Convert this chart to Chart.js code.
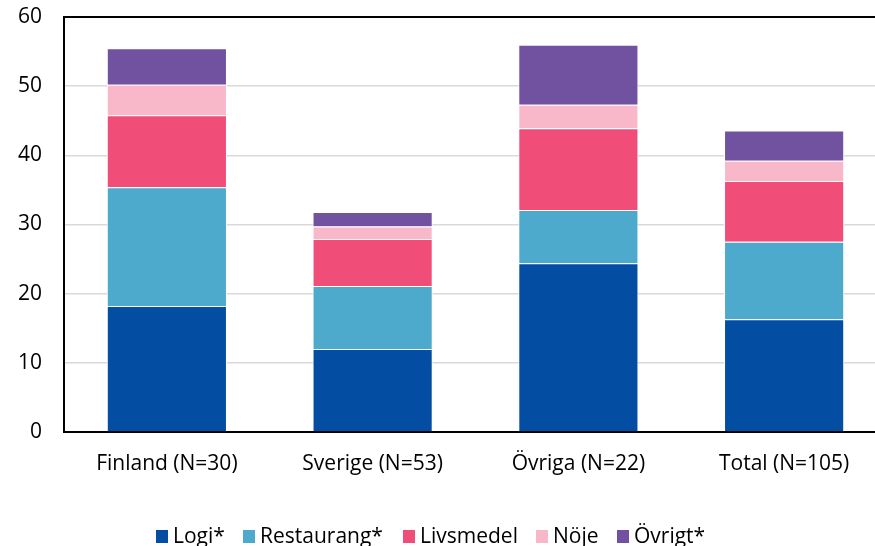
<!DOCTYPE html>
<html>
<head>
<meta charset="utf-8">
<script src="https://cdn.jsdelivr.net/npm/chart.js@4.4.1/dist/chart.umd.min.js"></script>
<style>
  html, body { margin: 0; padding: 0; background: #fff; overflow: hidden; }
  #wrap { position: relative; width: 875px; height: 546px; overflow: hidden; }
  #c { position: absolute; left: 0; top: 0; }
  #legend { position: absolute; left: 0; top: 521px; width: 875px; height: 28px;
            font-family: "Open Sans", sans-serif; font-size: 21px; line-height: 28px; color: #000; }
  #legend .item { position: absolute; top: 0; white-space: nowrap; }
  #legend .box { position: absolute; left: 0; top: 9px; width: 12px; height: 13px; }
  #legend .txt { position: absolute; left: 17px; top: 0; }
</style>
</head>
<body>
<div id="wrap">
  <canvas id="c" width="887" height="546"></canvas>
  <div id="legend"></div>
</div>
<script>
const categories = ["Finland (N=30)", "Sverige (N=53)", "Övriga (N=22)", "Total (N=105)"];
const seriesNames = ["Logi*", "Restaurang*", "Livsmedel", "Nöje", "Övrigt*"];
const logi       = [18.2, 12.0, 24.4, 16.3];
const restaurang = [17.2,  9.1,  7.7, 11.2];
const livsmedel  = [10.4,  6.8, 11.8,  8.8];
const noje       = [ 4.4,  1.8,  3.4,  2.9];
const ovrigt     = [ 5.3,  2.1,  8.7,  4.4];
const yTicks = [0, 10, 20, 30, 40, 50, 60];
const colors = ["#034EA2", "#4DAACC", "#F04E78", "#F9B8C9", "#7052A0"];
const legendX = [156, 243, 403, 536, 617];

const seriesValues = [logi, restaurang, livsmedel, noje, ovrigt];
const datasets = seriesNames.map((name, i) => ({
  label: name,
  data: seriesValues[i],
  backgroundColor: colors[i],
  borderColor: "#ffffff",
  borderWidth: 1,
  categoryPercentage: 1.0,
  barPercentage: 0.584
}));

const font = { family: "'Open Sans', sans-serif", size: 21 };

new Chart(document.getElementById("c"), {
  type: "bar",
  data: { labels: categories, datasets },
  options: {
    responsive: false,
    animation: false,
    devicePixelRatio: 1,
    layout: { padding: { top: 17, left: 0, right: 0, bottom: 0 } },
    plugins: { legend: { display: false }, tooltip: { enabled: false } },
    scales: {
      x: {
        stacked: true,
        grid: { display: false, drawTicks: false },
        border: { display: true, color: "#000", width: 2 },
        ticks: { color: "#000", font, padding: 19 },
        afterFit: (axis) => { axis.height = 114; axis.paddingLeft = 0; axis.paddingRight = 0; }
      },
      y: {
        stacked: true,
        min: 0, max: 60,
        afterBuildTicks: (axis) => { axis.ticks = yTicks.map(v => ({ value: v })); },
        grid: {
          drawTicks: false,
          color: (ctx) => ctx.tick && ctx.tick.value === 60 ? "#000" : "#d9d9d9",
          lineWidth: (ctx) => ctx.tick && ctx.tick.value === 60 ? 2 : 1.5
        },
        border: { display: true, color: "#000", width: 2 },
        ticks: { color: "#000", font, padding: 22 },
        afterFit: (axis) => { axis.width = 64; axis.paddingTop = 0; axis.paddingBottom = 0; }
      }
    }
  }
});

const legend = document.getElementById("legend");
seriesNames.forEach((name, i) => {
  const item = document.createElement("div");
  item.className = "item";
  item.style.left = legendX[i] + "px";
  const box = document.createElement("span");
  box.className = "box";
  box.style.background = colors[i];
  const txt = document.createElement("span");
  txt.className = "txt";
  txt.textContent = name;
  item.appendChild(box);
  item.appendChild(txt);
  legend.appendChild(item);
});
</script>
</body>
</html>
